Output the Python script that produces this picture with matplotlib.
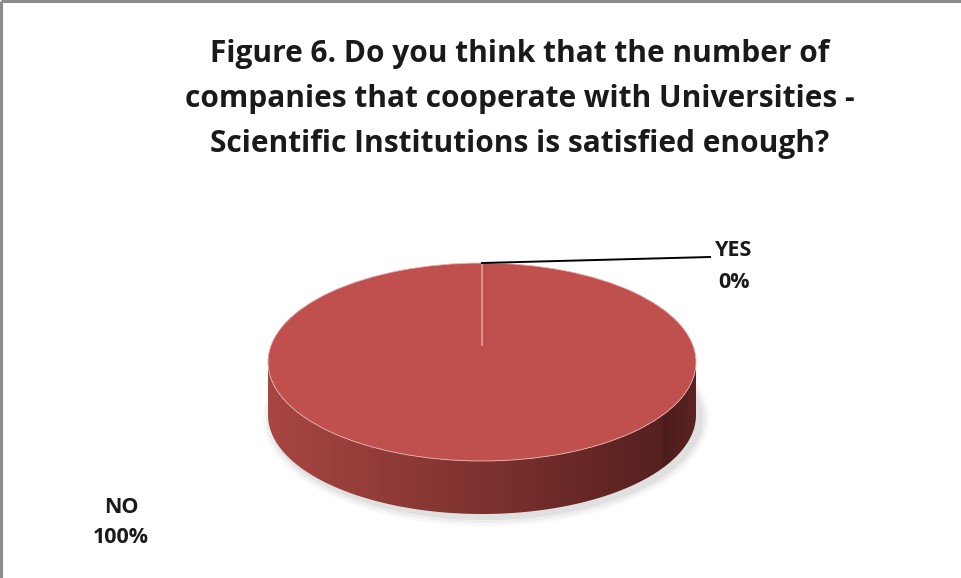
import numpy as np
import matplotlib
matplotlib.use('Agg')
import matplotlib.pyplot as plt
from matplotlib.patches import Ellipse, Wedge, Polygon
from matplotlib.transforms import Affine2D

# chart data
labels = ['YES', 'NO']
values = [0, 100]
title_lines = ['Figure 6. Do you think that the number of',
               'companies that cooperate with Universities -',
               'Scientific Institutions is satisfied enough?']

plt.rcParams['font.family'] = ['Open Sans', 'DejaVu Sans']

W, H = 961, 578
fig = plt.figure(figsize=(W / 100, H / 100), dpi=100)
ax = fig.add_axes([0, 0, 1, 1])
ax.set_xlim(0, W)
ax.set_ylim(H, 0)
ax.axis('off')

# frame (top / left only visible)
ax.plot([1, W], [1, 1], color='#8c8c8c', lw=2.2, solid_capstyle='butt')
ax.plot([1, 1], [1, H], color='#8c8c8c', lw=2.2, solid_capstyle='butt')

for i, line in enumerate(title_lines):
    ax.text(520, 62 + 45 * i, line, ha='center', va='baseline', fontsize=21.5,
            fontweight='bold', color='#1a1a1a')

# pie geometry (pixels)
cx, cy = 482, 362
rx, ry = 214, 99
depth = 53
top_col = '#C0504D'

# soft shadow under pie
for i, a in enumerate([0.05, 0.04, 0.03]):
    ax.add_patch(Ellipse((cx + 4, cy + depth + 3), 2 * rx + 6 + 6 * i, 2 * ry + 6 + 6 * i,
                         color='#000000', alpha=a, lw=0, zorder=1))

# side of the cylinder with horizontal gradient
t = np.linspace(0, np.pi, 200)
xs = cx + rx * np.cos(t)
ys = cy + ry * np.sin(t)
side = np.concatenate([np.column_stack([xs, ys + depth]),
                       np.column_stack([xs[::-1], ys[::-1]])])
side_poly = Polygon(side, closed=True, facecolor='none', edgecolor='none', zorder=2)
ax.add_patch(side_poly)
c_left = np.array([0xA8, 0x46, 0x42]) / 255
c_mid = np.array([0x7A, 0x30, 0x2D]) / 255
c_right = np.array([0x4C, 0x1D, 0x1C]) / 255
g = np.linspace(0, 1, 256)
grad = np.where(g[:, None] < 0.55,
                c_left + (c_mid - c_left) * (g[:, None] / 0.55),
                c_mid + (c_right - c_mid) * ((g[:, None] - 0.55) / 0.45))
grad[-20:] = c_right + (np.array([0x5a, 0x24, 0x22]) / 255 - c_right) * np.linspace(0, 1, 20)[:, None]
im = ax.imshow(grad[None, :, :], extent=[cx - rx, cx + rx, cy + ry + depth, cy - 5],
               aspect='auto', zorder=2, interpolation='bilinear')
im.set_clip_path(side_poly)
ax.set_xlim(0, W)
ax.set_ylim(H, 0)

# top face: wedges from values, squashed into an ellipse
total = sum(values)
squash = Affine2D().translate(-cx, -cy).scale(1, ry / rx).translate(cx, cy) + ax.transData
start = 90.0
for lab, v in zip(labels, values):
    span = 360.0 * v / total
    if span > 0:
        w = Wedge((cx, cy), rx, start - span, start, facecolor=top_col,
                  edgecolor='#e8b4b2', lw=0.6, zorder=3)
        w.set_transform(squash)
        ax.add_patch(w)
    start -= span
# slice boundary line at 12 o'clock (0% slice)
ax.plot([cx, cx], [cy - ry, cy - 17], color='#e0a19f', lw=1.2, zorder=4)

# labels
pct = [f'{v:.0f}%' for v in values]
ax.plot([cx, 710], [cy - ry, 257], color='black', lw=1.4, zorder=5)
ax.text(734, 256, labels[0], ha='center', va='baseline',
        fontsize=15.5, fontweight='bold', color='#1a1a1a')
ax.text(734, 288, pct[0], ha='center', va='baseline',
        fontsize=15.5, fontweight='bold', color='#1a1a1a')
ax.text(121, 513, labels[1], ha='center', va='baseline',
        fontsize=15.5, fontweight='bold', color='#1a1a1a')
ax.text(121, 543, pct[1], ha='center', va='baseline',
        fontsize=15.5, fontweight='bold', color='#1a1a1a')

fig.savefig('out.png', dpi=100)
